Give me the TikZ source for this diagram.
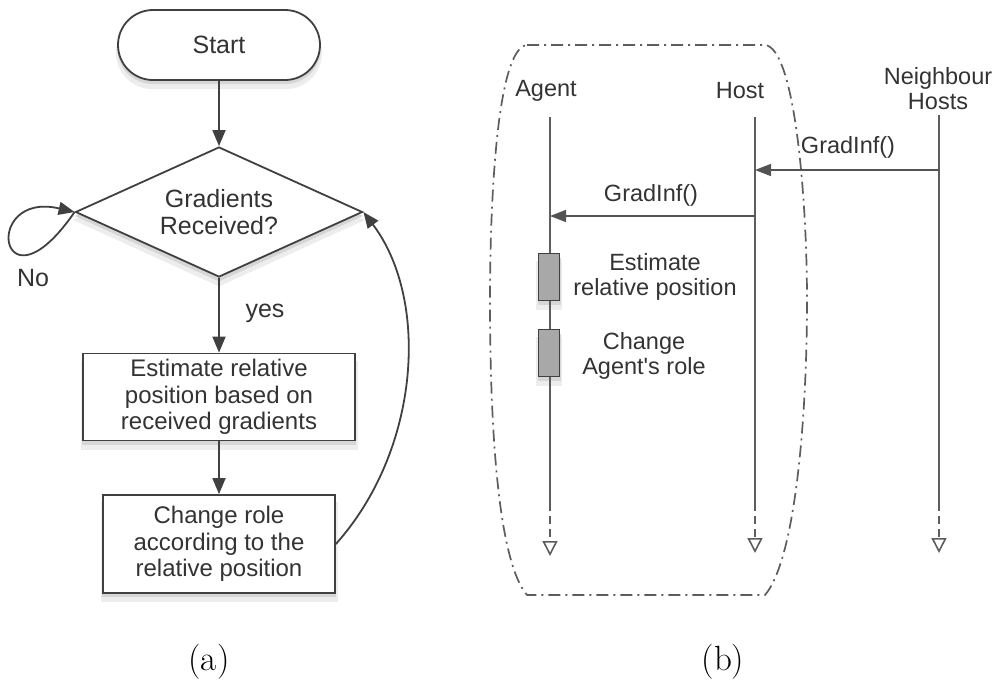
\documentclass[tikz,border=0pt]{standalone}
\usepackage{fontspec}
\newfontfamily\helv{Liberation Sans}
\usetikzlibrary{shapes.geometric,arrows.meta}
\definecolor{ink}{HTML}{333333}
\definecolor{edge}{HTML}{404040}
\definecolor{actfill}{HTML}{A8A8A8}

\begin{document}
\begin{tikzpicture}[x=1pt,y=-1pt,
  every node/.style={text=ink},
  lftxt/.style={font=\helv\fontsize{25}{27}\selectfont, align=center},
  boxtxt/.style={font=\helv\fontsize{24}{26.5}\selectfont, align=center},
  rttxt/.style={font=\helv\fontsize{23.5}{25}\selectfont, align=center},
  shadowfar/.style={draw=none, fill=black!7, inner sep=0pt},
  shadownear/.style={draw=none, fill=black!16, inner sep=0pt},
  flowbox/.style={draw=edge, line width=1.8pt, fill=white, inner sep=0pt},
  flow/.style={draw=edge, line width=1.8pt, -{Triangle[length=16pt,width=13pt]}},
  life/.style={draw=edge!85, line width=1.6pt},
  lifeend/.style={draw=edge!85, line width=1.6pt, dash pattern=on 8pt off 5pt, -{Triangle[open,length=15pt,width=15pt,fill=white]}},
  msg/.style={draw=edge!90, line width=1.6pt, -{Triangle[length=16pt,width=12pt]}},
  act/.style={draw=edge, line width=1.4pt, fill=actfill, minimum width=21pt, minimum height=47pt, inner sep=0pt},
  frame/.style={draw=edge!85, line width=1.7pt, dash pattern=on 12pt off 5pt on 2pt off 5pt},
  caption/.style={font=\fontsize{35}{40}\selectfont, text=black}
]
\useasboundingbox (0,0) rectangle (996,683);

% ---------- soft shadows below the boxes ----------
\node[shadowfar, minimum width=206pt, minimum height=72pt, rounded corners=36pt] (start-sf) at (219,53) {};
\node[shadownear, minimum width=203pt, minimum height=70pt, rounded corners=35pt] (start-sn) at (219,49) {};
\node[shadowfar, diamond, aspect=2.2, minimum width=292pt, minimum height=133pt] (dec-sf) at (219,220) {};
\node[shadownear, diamond, aspect=2.2, minimum width=288pt, minimum height=131pt] (dec-sn) at (219,216) {};
\node[shadowfar, minimum width=277pt, minimum height=89pt] (est-sf) at (219,405) {};
\node[shadownear, minimum width=274pt, minimum height=87pt] (est-sn) at (219,401) {};
\node[shadowfar, minimum width=237pt, minimum height=100pt] (chg-sf) at (219,552) {};
\node[shadownear, minimum width=234pt, minimum height=98pt] (chg-sn) at (219,548) {};
\node[shadowfar, minimum width=26pt, minimum height=49pt] (act1-sf) at (549,285) {};
\node[shadownear, minimum width=23pt, minimum height=47pt] (act1-sn) at (549,281) {};
\node[shadowfar, minimum width=26pt, minimum height=49pt] (act2-sf) at (549,361) {};
\node[shadownear, minimum width=23pt, minimum height=47pt] (act2-sn) at (549,357) {};

% ---------- (a) flowchart ----------
\node[flowbox, lftxt, minimum width=202pt, minimum height=70pt, rounded corners=35pt] (start) at (219,45) {Start};
\node[flowbox, lftxt, diamond, aspect=2.2, minimum width=287pt, minimum height=130pt] (dec) at (219,212) {Gradients\\Received?};
\node[flowbox, boxtxt, minimum width=272pt, minimum height=87pt] (est) at (219,397) {Estimate relative\\position based on\\received gradients};
\node[flowbox, boxtxt, minimum width=232pt, minimum height=98pt] (chg) at (219,544) {Change role\\according to the\\relative position};

\draw[flow] (start.south) -- (dec.north);
\draw[flow] (dec.south) -- (est.north);
\draw[flow] (est.south) -- (chg.north);
\draw[flow] (dec.west) .. controls (0,320) and (-20,190) .. (dec.west);
\draw[flow] (chg.east) .. controls (420,450) and (430,300) .. (dec.east);

\node[lftxt] (no) at (33,278) {No};
\node[lftxt] (yes) at (265,313) {yes};

% ---------- (b) sequence diagram ----------
\draw[frame] (527,45) -- (765,45)
  .. controls (795,48) and (807,200) .. (807,300)
  .. controls (807,420) and (795,560) .. (765,595)
  -- (527,595)
  .. controls (497,560) and (490,420) .. (490,300)
  .. controls (490,200) and (497,48) .. (527,45) -- cycle;

\node[rttxt] (agent) at (546,91) {Agent};
\node[rttxt] (host) at (740,91) {Host};
\node[rttxt] (nbr) at (938,89) {Neighbour\\Hosts};

\coordinate (a0) at (550,117);
\coordinate (a1) at (550,503);
\coordinate (a2) at (550,556);
\coordinate (h0) at (755,117);
\coordinate (h1) at (755,503);
\coordinate (h2) at (755,553);
\coordinate (n0) at (939,115);
\coordinate (n1) at (939,503);
\coordinate (n2) at (939,553);

\draw[life] (a0) -- (a1);
\draw[lifeend] (a1) -- (a2);
\draw[life] (h0) -- (h1);
\draw[lifeend] (h1) -- (h2);
\draw[life] (n0) -- (n1);
\draw[lifeend] (n1) -- (n2);

\coordinate (nm) at (939,170);
\coordinate (hm) at (755,170);
\coordinate (hs) at (755,216);
\coordinate (am) at (550,216);
\draw[msg] (nm) -- (hm);
\draw[msg] (hs) -- (am);
\node[rttxt] (m1) at (848,147) {GradInf()};
\node[rttxt] (m2) at (651,195) {GradInf()};

\node[act] (act1) at (549,277) {};
\node[act] (act2) at (549,353) {};
\node[rttxt] (l1) at (655,277) {Estimate\\relative position};
\node[rttxt] (l2) at (644,356) {Change\\Agent's role};

% ---------- captions ----------
\node[caption] (capa) at (209,662) {(a)};
\node[caption] (capb) at (723,662) {(b)};
\end{tikzpicture}
\end{document}
